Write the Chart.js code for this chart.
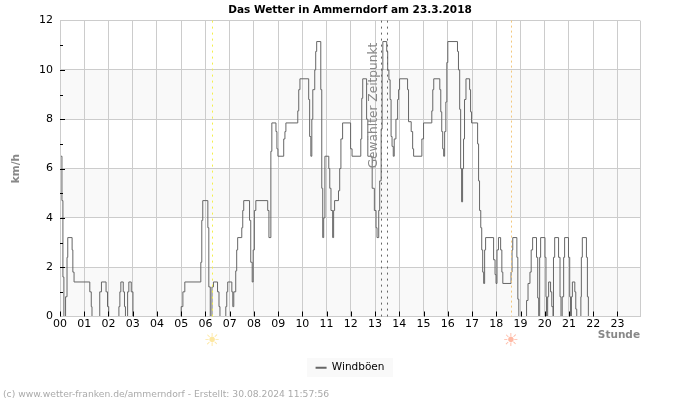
<!DOCTYPE html>
<html>
<head>
<meta charset="utf-8">
<title>Das Wetter in Ammerndorf</title>
<script src="https://cdn.jsdelivr.net/npm/chart.js@4"></script>
<style>
  body { margin: 0; background: #fff; }
  canvas { display: block; }
</style>
</head>
<body>
<canvas id="windChart" width="700" height="400"></canvas>
<script>
// Wind gusts: each value holds from its hour until the next one
const gustHours = [
  0.04, 0.08, 0.12, 0.16, 0.23, 0.29, 0.32, 0.5, 0.53, 0.58,
  1.23, 1.29, 1.32, 1.64, 1.71, 1.9, 1.96, 2.01,
  2.43, 2.47, 2.51, 2.61, 2.66, 2.7, 2.79, 2.84, 2.94, 3.01,
  5.0, 5.07, 5.15, 5.81, 5.85, 5.89,
  6.1, 6.14, 6.2, 6.27, 6.33, 6.5, 6.56, 6.6, 6.84, 6.88, 6.92,
  7.09, 7.13, 7.17, 7.25, 7.29, 7.33, 7.5, 7.54, 7.58, 7.82, 7.87, 7.93, 7.97,
  8.02, 8.08, 8.57, 8.62, 8.7, 8.74, 8.91, 8.95, 8.99,
  9.23, 9.28, 9.32, 9.81, 9.85, 9.9,
  10.26, 10.3, 10.35, 10.39, 10.43, 10.51, 10.55, 10.59, 10.76, 10.8, 10.84, 10.88, 10.93,
  11.09, 11.13, 11.18, 11.25, 11.29, 11.33, 11.49, 11.54, 11.59, 11.66, 11.99,
  12.05, 12.41, 12.45, 12.49, 12.65, 12.7, 12.88, 12.97,
  13.04, 13.08, 13.15, 13.19, 13.25, 13.29, 13.32, 13.48, 13.52, 13.57, 13.62, 13.66, 13.7, 13.75, 13.79, 13.86, 13.93, 13.97,
  14.01, 14.34, 14.38, 14.49, 14.55, 14.59, 14.93,
  15.0, 15.34, 15.38, 15.42, 15.67, 15.71, 15.75, 15.79, 15.83, 15.87, 15.92, 15.96,
  16.0, 16.4, 16.44, 16.49, 16.53, 16.57, 16.61, 16.65, 16.69, 16.75, 16.9, 16.94, 16.98,
  17.23, 17.27, 17.31, 17.36, 17.4, 17.44, 17.48, 17.52, 17.56, 17.89, 17.95, 17.99,
  18.03, 18.09, 18.18, 18.23, 18.27, 18.61, 18.65, 18.68, 18.85, 18.89, 18.93,
  19.25, 19.31, 19.39, 19.44, 19.5, 19.66, 19.71, 19.75, 19.79, 19.83,
  20.01, 20.05, 20.07, 20.12, 20.16, 20.24, 20.29, 20.34, 20.36, 20.41, 20.57, 20.63, 20.67, 20.72, 20.78, 20.82, 20.98,
  21.03, 21.06, 21.1, 21.14, 21.24, 21.28, 21.32, 21.49, 21.51, 21.55, 21.72, 21.76, 21.8,
  23.9
];
const gustValues = [
  6.5, 4.7, 1.6, 0, 0.8, 2.4, 3.2, 2.7, 1.8, 1.4,
  1.0, 0.4, 0, 1.0, 1.4, 1.0, 0.4, 0,
  0.4, 1.0, 1.4, 1.0, 0.4, 0, 1.0, 1.4, 1.0, 0,
  0.4, 1.0, 1.4, 2.2, 3.9, 4.7,
  3.6, 1.2, 0, 1.2, 1.4, 1.0, 0.4, 0, 0.4, 1.0, 1.4,
  1.0, 0.4, 1.0, 1.85, 2.7, 3.2, 3.6, 4.3, 4.7, 3.9, 2.2, 1.4, 2.7,
  4.3, 4.7, 4.3, 3.2, 6.7, 7.85, 7.5, 6.8, 6.5,
  7.2, 7.5, 7.85, 8.34, 9.2, 9.64,
  8.8, 7.3, 6.5, 8, 9.2, 10, 10.75, 11.15, 9.2, 5.2, 3.2, 4, 6.5,
  6, 5.2, 4.3, 3.2, 4.3, 4.7, 5.1, 6, 7.2, 7.85, 6.8,
  6.5, 7.2, 8.85, 9.64, 8, 6.5, 5.2, 4.3,
  3.6, 3.2, 4.3, 5.5, 7.6, 10, 11.15, 10.75, 10, 9.6, 8.8, 7.3, 6.9, 6.5, 7.2, 8, 8.8, 9.2,
  9.64, 9.2, 7.9, 7.5, 6.8, 6.5, 7.2,
  7.85, 8.34, 9.2, 9.64, 9.2, 8.3, 7.5, 6.8, 6.5, 7.5, 8.7, 10.3,
  11.15, 10.75, 10, 8.4, 6, 4.65, 6, 7.2, 8.8, 9.64, 9.2, 8.3, 7.85,
  7, 5.5, 4.3, 3.6, 2.7, 1.8, 1.34, 2.7, 3.2, 2.3, 1.7, 1.34,
  2.7, 3.2, 2.7, 1.8, 1.34, 1.8, 2.7, 3.2, 2.4, 0.7, 0,
  0.65, 1.34, 1.8, 2.7, 3.2, 2.4, 0.75, 0, 2.4, 3.2,
  2.4, 0.8, 0, 0.8, 1.4, 1.0, 0.4, 0, 2.4, 3.2, 2.4, 0.8, 0, 0.8, 2.4, 3.2, 2.4,
  0.8, 0, 0.8, 1.4, 1.0, 0.3, 0, 0.8, 2.4, 3.2, 2.4, 0.8, 0,
  0
];

const hourLabels = ['00', '01', '02', '03', '04', '05', '06', '07', '08', '09', '10', '11',
  '12', '13', '14', '15', '16', '17', '18', '19', '20', '21', '22', '23'];
const xMax = 23.93;
const sunriseHour = 6.26;
const sunsetHour = 18.59;
const selectedHours = [13.25, 13.48];
const shadedBands = [[0, 2], [4, 6], [8, 10]];
const minorTicks = [1, 3, 5, 7, 9, 11];
const majorTicks = [2, 4, 6, 8, 10];

const titleText = 'Das Wetter in Ammerndorf am 23.3.2018';
const selectedText = 'Gewählter Zeitpunkt';
const creditText = '(c) www.wetter-franken.de/ammerndorf - Erstellt: 30.08.2024 11:57:56';
const fontName = '"DejaVu Sans"';

// Bands behind the grid
const bandsPlugin = {
  id: 'bands',
  beforeDraw(chart) {
    const { ctx, chartArea, scales } = chart;
    ctx.save();
    ctx.fillStyle = '#f9f9f9';
    shadedBands.forEach(([from, to]) => {
      const top = scales.y.getPixelForValue(to);
      ctx.fillRect(chartArea.left, top, chartArea.width, scales.y.getPixelForValue(from) - top);
    });
    // legend background
    ctx.fillRect(307, 358, 86, 19);
    ctx.restore();
  }
};

// Marker lines, inner ticks, labels and credit line
const overlayPlugin = {
  id: 'overlay',
  afterDatasetsDraw(chart) {
    const { ctx, chartArea, scales } = chart;
    const { left, right, top, bottom } = chartArea;
    ctx.save();

    // axis line covers the zero level of the series
    ctx.strokeStyle = '#ccc';
    ctx.lineWidth = 1;
    ctx.beginPath();
    ctx.moveTo(left, bottom);
    ctx.lineTo(right, bottom);
    ctx.stroke();

    const vline = (hour, color, dash) => {
      const x = Math.round(scales.x.getPixelForValue(hour)) + 0.5;
      ctx.strokeStyle = color;
      ctx.setLineDash(dash);
      ctx.beginPath();
      ctx.moveTo(x, top);
      ctx.lineTo(x, bottom);
      ctx.stroke();
    };
    vline(sunriseHour, '#f4f04a', [2, 4]);
    vline(sunsetHour, '#f3c87e', [2, 3]);
    selectedHours.forEach(h => vline(h, '#666', [2, 4]));
    ctx.setLineDash([]);

    // inner tick marks
    ctx.strokeStyle = '#000';
    ctx.beginPath();
    hourLabels.forEach((label, i) => {
      const x = Math.round(scales.x.getPixelForValue(i)) + 0.5;
      ctx.moveTo(x, bottom - 5);
      ctx.lineTo(x, bottom);
    });
    majorTicks.forEach(v => {
      const y = Math.round(scales.y.getPixelForValue(v)) + 0.5;
      ctx.moveTo(left, y);
      ctx.lineTo(left + 5, y);
    });
    minorTicks.forEach(v => {
      const y = Math.round(scales.y.getPixelForValue(v)) + 0.5;
      ctx.moveTo(left, y);
      ctx.lineTo(left + 3, y);
    });
    ctx.stroke();

    // selected time label
    ctx.save();
    ctx.translate(374, 105.5);
    ctx.rotate(-Math.PI / 2);
    ctx.font = '12.2px ' + fontName;
    ctx.fillStyle = '#888';
    ctx.textAlign = 'center';
    ctx.textBaseline = 'middle';
    ctx.fillText(selectedText, 0, 0);
    ctx.restore();

    // sun symbols
    ctx.font = '18px ' + fontName;
    ctx.textAlign = 'center';
    ctx.textBaseline = 'middle';
    ctx.fillStyle = '#fde7a0';
    ctx.fillText('☀', scales.x.getPixelForValue(sunriseHour), 341);
    ctx.fillStyle = '#ffb9a4';
    ctx.fillText('☀', scales.x.getPixelForValue(sunsetHour), 341);

    // credit line
    ctx.font = '9.2px ' + fontName;
    ctx.fillStyle = '#aaa';
    ctx.textAlign = 'left';
    ctx.textBaseline = 'alphabetic';
    ctx.fillText(creditText, 3, 397);
    ctx.restore();
  }
};

new Chart(document.getElementById('windChart'), {
  type: 'line',
  data: {
    datasets: [{
      label: 'Windböen',
      data: gustHours.map((h, i) => ({ x: h, y: gustValues[i] })),
      borderColor: '#666',
      backgroundColor: '#666',
      borderWidth: 1,
      pointRadius: 0,
      stepped: true,
      clip: 0
    }]
  },
  options: {
    responsive: false,
    animation: false,
    devicePixelRatio: 1,
    layout: { padding: { left: 0, right: 0, top: 0, bottom: 17 } },
    plugins: {
      title: {
        display: true,
        text: titleText,
        color: '#000',
        font: { family: fontName, size: 10.5, weight: 'bold' },
        padding: { top: 4, bottom: 4 }
      },
      legend: {
        position: 'bottom',
        labels: {
          color: '#000',
          font: { family: fontName, size: 10.5 },
          boxWidth: 11,
          boxHeight: 0,
          padding: 6,
          generateLabels: chart => [{
            text: chart.data.datasets[0].label,
            fillStyle: '#666',
            strokeStyle: '#666',
            lineWidth: 2,
            datasetIndex: 0
          }]
        }
      },
      tooltip: { enabled: false }
    },
    scales: {
      x: {
        type: 'linear',
        min: 0,
        max: xMax,
        grid: { color: '#ccc', lineWidth: 1, drawTicks: false },
        border: { display: false },
        afterBuildTicks(scale) {
          scale.ticks = hourLabels.map((label, i) => ({ value: i })).concat({ value: xMax });
        },
        afterFit(scale) { scale.height = 40; },
        title: {
          display: true,
          text: 'Stunde',
          align: 'end',
          color: '#888',
          font: { family: fontName, size: 10.5, weight: 'bold' },
          padding: { top: 0, bottom: 15 }
        },
        ticks: {
          autoSkip: false,
          maxRotation: 0,
          padding: 1,
          color: '#000',
          font: { family: fontName, size: 11 },
          callback: value => hourLabels[value] || ''
        }
      },
      y: {
        min: 0,
        max: 12,
        grid: { color: '#ccc', lineWidth: 1, drawTicks: false },
        border: { display: false },
        afterFit(scale) { scale.width = 60; },
        title: {
          display: true,
          text: 'km/h',
          color: '#888',
          font: { family: fontName, size: 10.5, weight: 'bold' },
          padding: { top: 10, bottom: 0 }
        },
        ticks: {
          stepSize: 2,
          padding: 7,
          color: '#000',
          font: { family: fontName, size: 11 }
        }
      },
      // empty axis, keeps the right margin while title and legend stay centred
      yRight: {
        position: 'right',
        grid: { display: false },
        border: { display: false },
        ticks: { display: false },
        afterFit(scale) { scale.width = 60; }
      }
    }
  },
  plugins: [bandsPlugin, overlayPlugin]
});
</script>
</body>
</html>
